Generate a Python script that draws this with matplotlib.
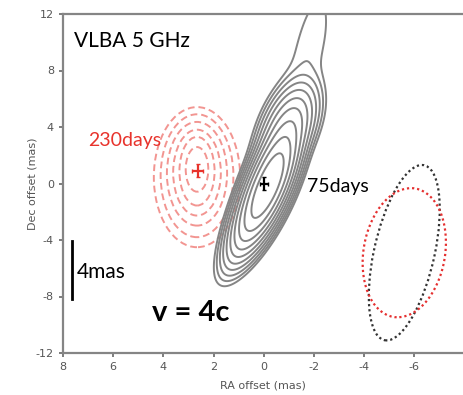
import numpy as np
import matplotlib.pyplot as plt
from matplotlib.patches import Ellipse

# --------- données ---------
x_ticks = [8, 6, 4, 2, 0, -2, -4, -6]
y_ticks = [-12, -8, -4, 0, 4, 8, 12]

# modèle VLBA 5 GHz (75 jours) : coeur + jet + queue
# (amplitude, y centre, sigma le long du jet, sigma en travers)
gray_amp = [1.0, 0.075, 0.0017]
gray_yc = [-0.2, 4.0, 9.5]
gray_sig_t = [1.9, 1.4, 3.2]
gray_sig_s = [0.36, 0.45, 0.5]
# axe du jet (courbé) : x = c0 + c1*y + c2*y^2
ridge_coef = [-0.2, -0.211, 0.0043]
gray_levels = [2.0 ** k for k in range(-10, 0)]

# contours 230 jours
red_cx = 2.66
red_cy = [1.0, 0.87, 0.77, 0.69, 0.55, 0.45]
red_half_h = [1.58, 2.43, 3.04, 3.67, 4.35, 4.96]
red_half_w = [0.45, 0.70, 0.95, 1.20, 1.45, 1.72]

# positions des pics : x, y, xerr, yerr
pos_75 = (0.0, 0.0, 0.16, 0.43)
pos_230 = (2.64, 0.92, 0.2, 0.43)

# faisceaux : centre x, centre y, largeur, hauteur, angle
beam_75 = (-5.6, -4.9, 2.44, 12.5, 6.7)
beam_230 = (-5.6, -4.9, 3.27, 9.16, 3.8)

RED = '#e8332c'
LIGHT_RED = '#f29591'
GRAY = '#858585'

fig = plt.figure(figsize=(4.63, 3.95), dpi=100)
ax = fig.add_axes([63 / 463, 42 / 395, 1 - 63 / 463, 339 / 395])

# champ du modèle gris
xx, yy = np.meshgrid(np.linspace(-9, 9, 600), np.linspace(-13, 15, 900))
ridge = ridge_coef[0] + ridge_coef[1] * yy + ridge_coef[2] * yy ** 2
ss = xx - ridge
field = np.zeros_like(xx)
for a, yc, st, sw in zip(gray_amp, gray_yc, gray_sig_t, gray_sig_s):
    field += a * np.exp(-0.5 * ((yy - yc) / st) ** 2 - 0.5 * (ss / sw) ** 2)
ax.contour(xx, yy, field, levels=gray_levels, colors=GRAY, linewidths=1.4)

# contours rouges
for cy, hh, hw in zip(red_cy, red_half_h, red_half_w):
    ax.add_patch(Ellipse((red_cx, cy), 2 * hw, 2 * hh, fill=False,
                         edgecolor=LIGHT_RED, lw=1.4, linestyle=(0, (3.5, 2))))

# beams
bx, by, bw, bh, ba = beam_75
ax.add_patch(Ellipse((bx, by), bw, bh, angle=ba, fill=False,
                     edgecolor='#333333', lw=1.6, linestyle=(0, (1, 1.3))))
bx, by, bw, bh, ba = beam_230
ax.add_patch(Ellipse((bx, by), bw, bh, angle=ba, fill=False,
                     edgecolor='#e53030', lw=1.6, linestyle=(0, (1, 1.3))))

# positions
ax.errorbar(pos_75[0], pos_75[1], xerr=pos_75[2], yerr=pos_75[3],
            color='black', lw=1.6, capsize=1.5)
ax.errorbar(pos_230[0], pos_230[1], xerr=pos_230[2], yerr=pos_230[3],
            color=RED, lw=1.6, capsize=1.5)

# barre d'échelle 4 mas
ax.plot([7.64, 7.64], [-4.1, -8.2], color='black', lw=2)

# textes
ax.text(7.56, 10.1, 'VLBA 5 GHz', fontsize=15, family='Lato', va='center')
ax.text(7.0, 3.05, '230days', fontsize=14, family='Lato', color=RED, va='center')
ax.text(-1.71, -0.2, '75days', fontsize=14, family='Lato', va='center')
ax.text(7.44, -6.3, '4mas', fontsize=15, family='Lato', va='center')
ax.text(4.45, -9.2, 'v = 4c', fontsize=21, family='Lato', weight='bold', va='center')

ax.set_xlim(8, -7.94)
ax.set_ylim(-12, 12)
ax.set_xticks(x_ticks)
ax.set_xticklabels([str(v) for v in x_ticks])
ax.set_yticks(y_ticks)
ax.set_yticklabels([str(v) for v in y_ticks])
ax.tick_params(colors='#666666', labelcolor='#555555', labelsize=8, length=3, width=1.2)
for side in ['left', 'bottom', 'top']:
    ax.spines[side].set_color(GRAY)
    ax.spines[side].set_linewidth(1.6)
ax.spines['right'].set_visible(False)
ax.set_xlabel('RA offset (mas)', fontsize=8, color='#555555', labelpad=6)
ax.set_ylabel('Dec offset (mas)', fontsize=8, color='#555555', labelpad=-1.5)

fig.savefig('out.png', dpi=100)
